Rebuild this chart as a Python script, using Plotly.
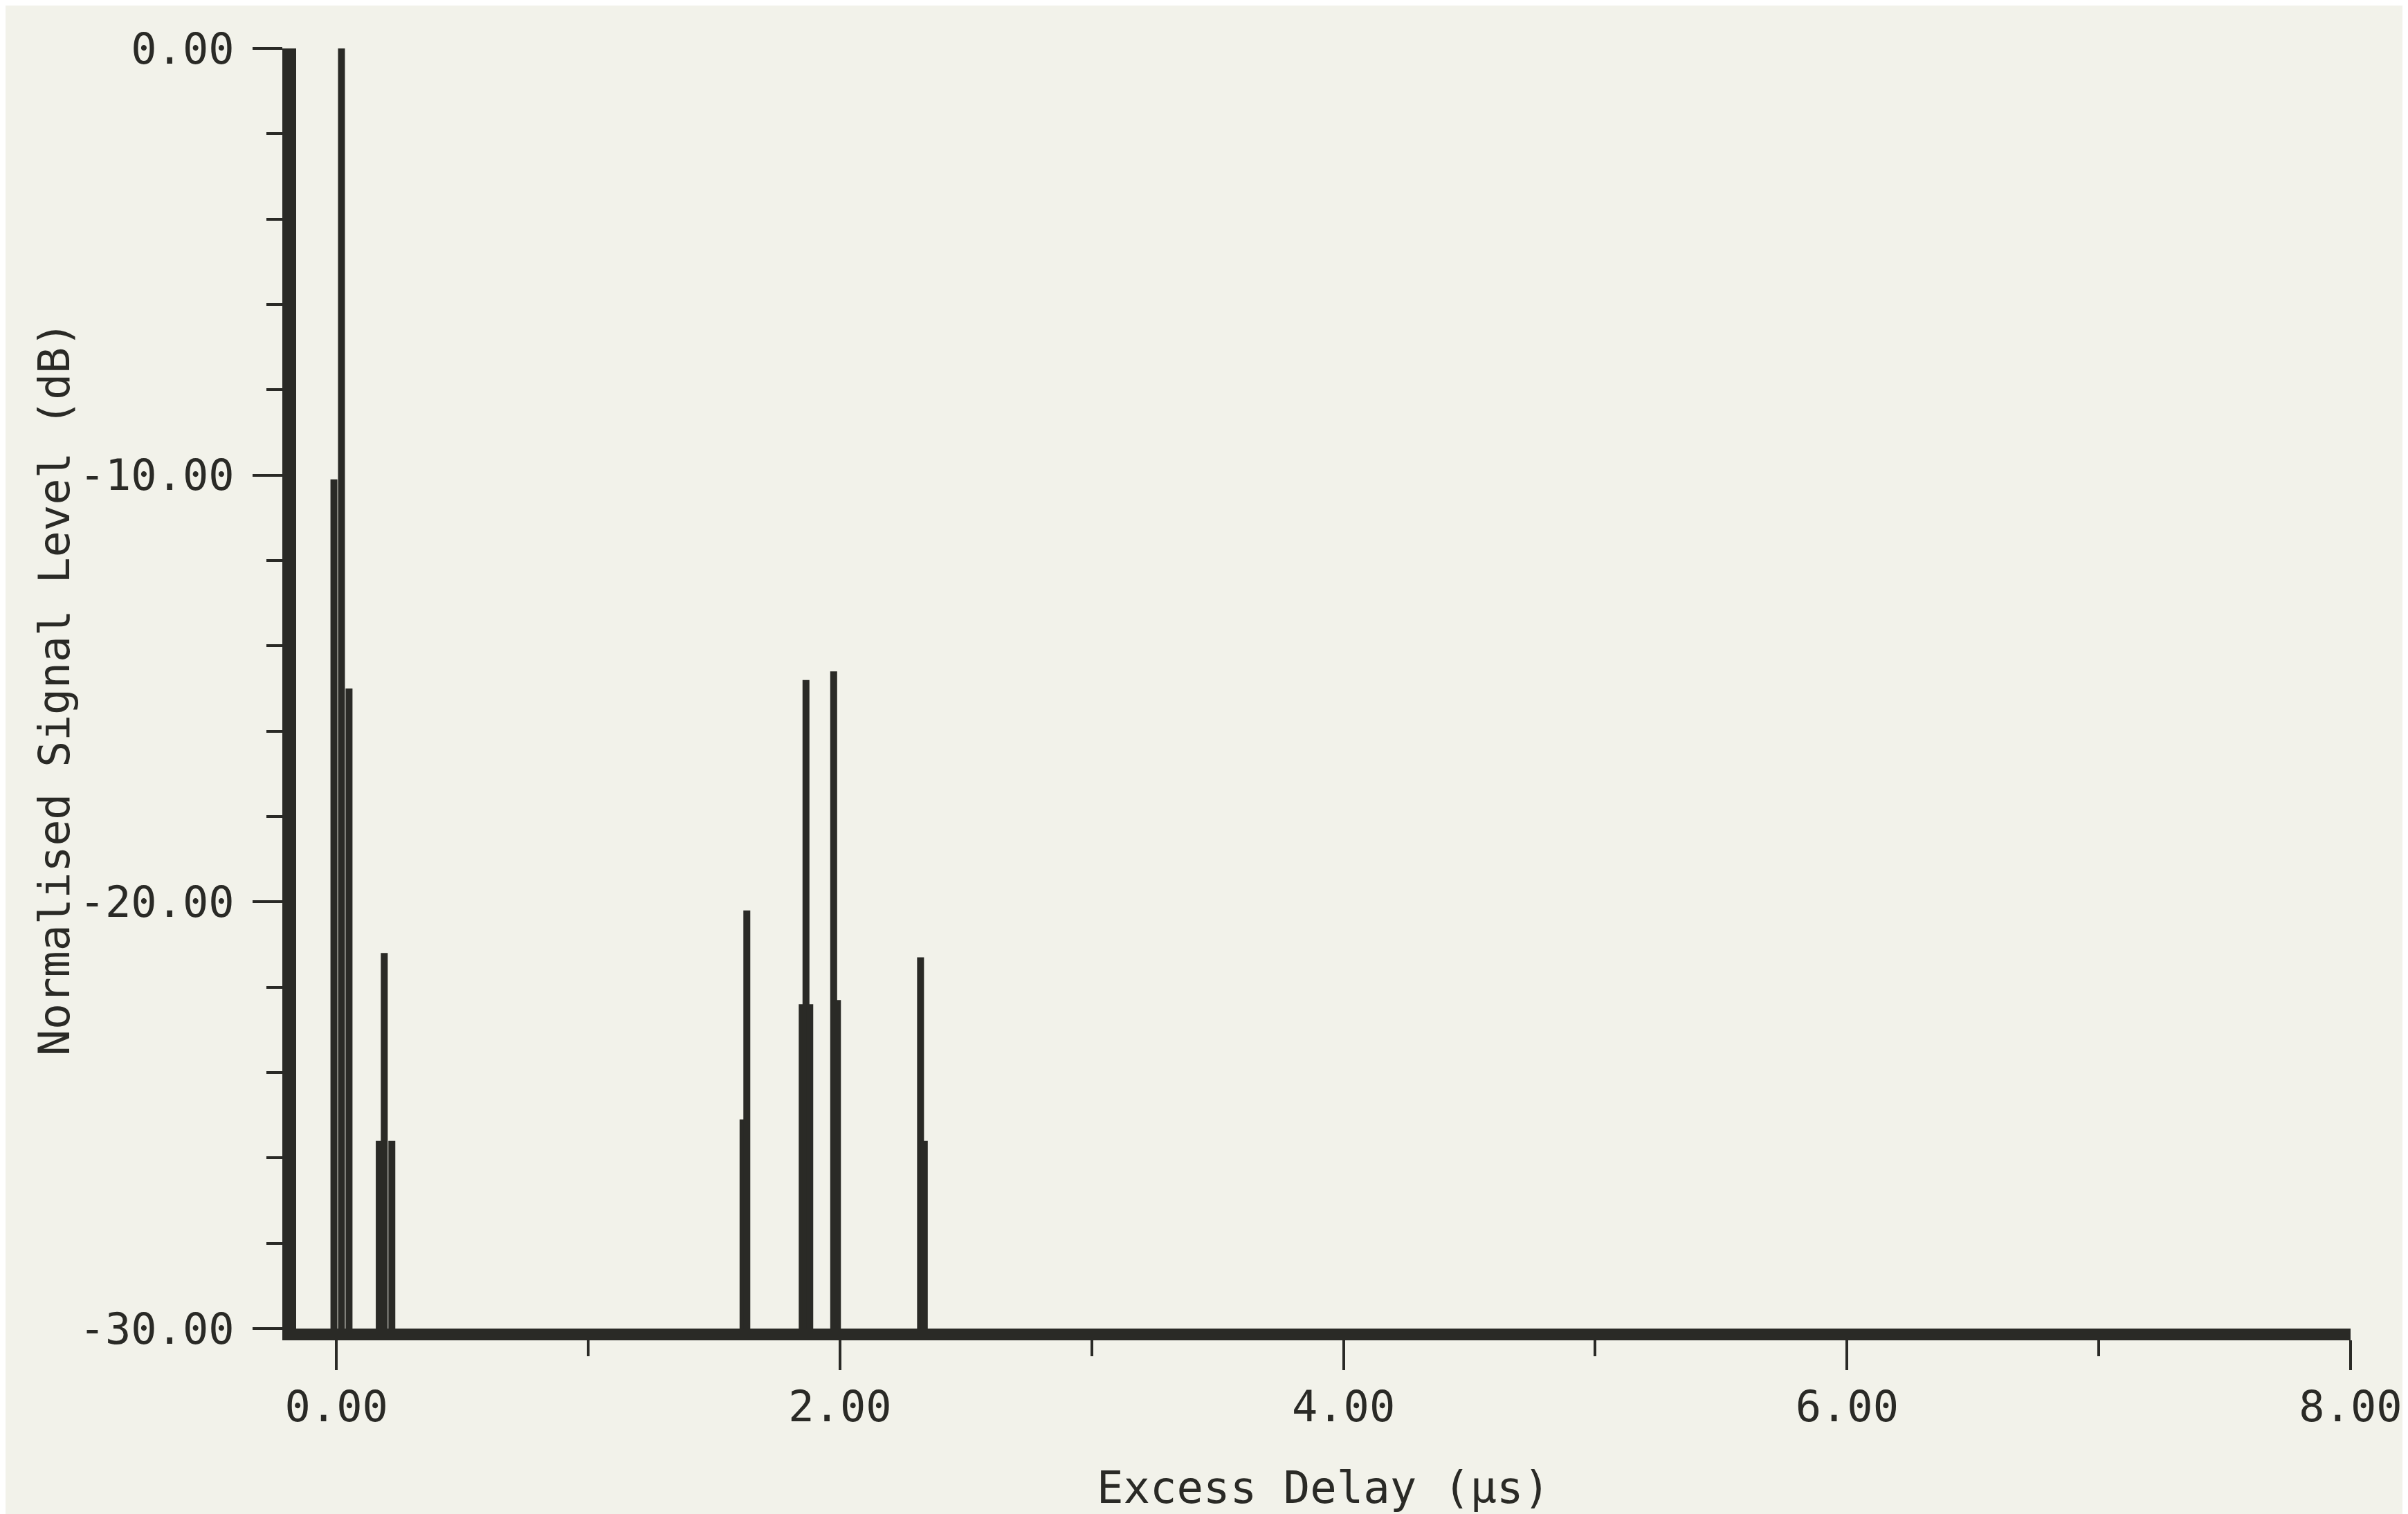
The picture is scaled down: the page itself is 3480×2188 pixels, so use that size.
import plotly.graph_objects as go

# Multipath components: excess delay (µs) and normalised level (dB)
delay_us = [-0.01, 0.02, 0.05, 0.17, 0.19, 0.22, 1.615, 1.63, 1.85, 1.865, 1.88, 1.975, 1.99, 2.32, 2.335]
level_db = [-10.1, 0.0, -15.0, -25.6, -21.2, -25.6, -25.1, -20.2, -22.4, -14.8, -22.4, -14.6, -22.3, -21.3, -25.6]

floor_db = -30.0

x_tick_vals = [0, 2, 4, 6, 8]
x_tick_text = ["0.00", "2.00", "4.00", "6.00", "8.00"]
y_tick_vals = [0, -10, -20, -30]
y_tick_text = ["0.00", "-10.00", "-20.00", "-30.00"]

ink = "#2a2a26"
paper = "#F2F2EA"
font_family = "DejaVu Sans Mono"

# Build stem polyline from the data arrays
xs, ys = [], []
for d, l in zip(delay_us, level_db):
    xs += [d, d, None]
    ys += [floor_db, l, None]

fig = go.Figure()
fig.add_trace(go.Scatter(
    x=xs, y=ys, mode="lines",
    line=dict(color=ink, width=10),
    hoverinfo="skip", showlegend=False,
))

fig.update_layout(
    width=3480, height=2188,
    paper_bgcolor=paper, plot_bgcolor=paper,
    margin=dict(l=420, r=91, t=62, b=276),
    font=dict(family=font_family, size=62, color=ink),
    showlegend=False,
)

fig.update_xaxes(
    range=[-0.16, 8], showgrid=False, zeroline=False,
    showline=True, linewidth=17, linecolor=ink,
    tickmode="array", tickvals=x_tick_vals, ticktext=x_tick_text,
    ticks="outside", ticklen=43, tickwidth=4, tickcolor=ink,
    minor=dict(tickmode="linear", tick0=0, dtick=1, ticks="outside",
               ticklen=23, tickwidth=4, tickcolor=ink, showgrid=False),
    tickfont=dict(family=font_family, size=62, color=ink),
    title=dict(text="Excess Delay (µs)", font=dict(family=font_family, size=64, color=ink), standoff=66),
)

fig.update_yaxes(
    range=[-30, 0], showgrid=False, zeroline=False,
    showline=True, linewidth=20, linecolor=ink,
    tickmode="array", tickvals=y_tick_vals, ticktext=y_tick_text,
    ticks="outside", ticklen=43, tickwidth=4, tickcolor=ink,
    ticklabelstandoff=14,
    minor=dict(tickmode="linear", tick0=0, dtick=2, ticks="outside",
               ticklen=23, tickwidth=4, tickcolor=ink, showgrid=False),
    tickfont=dict(family=font_family, size=62, color=ink),
    title=dict(text="Normalised Signal Level (dB)", font=dict(family=font_family, size=63, color=ink), standoff=3),
)

fig.write_html("out.html")
